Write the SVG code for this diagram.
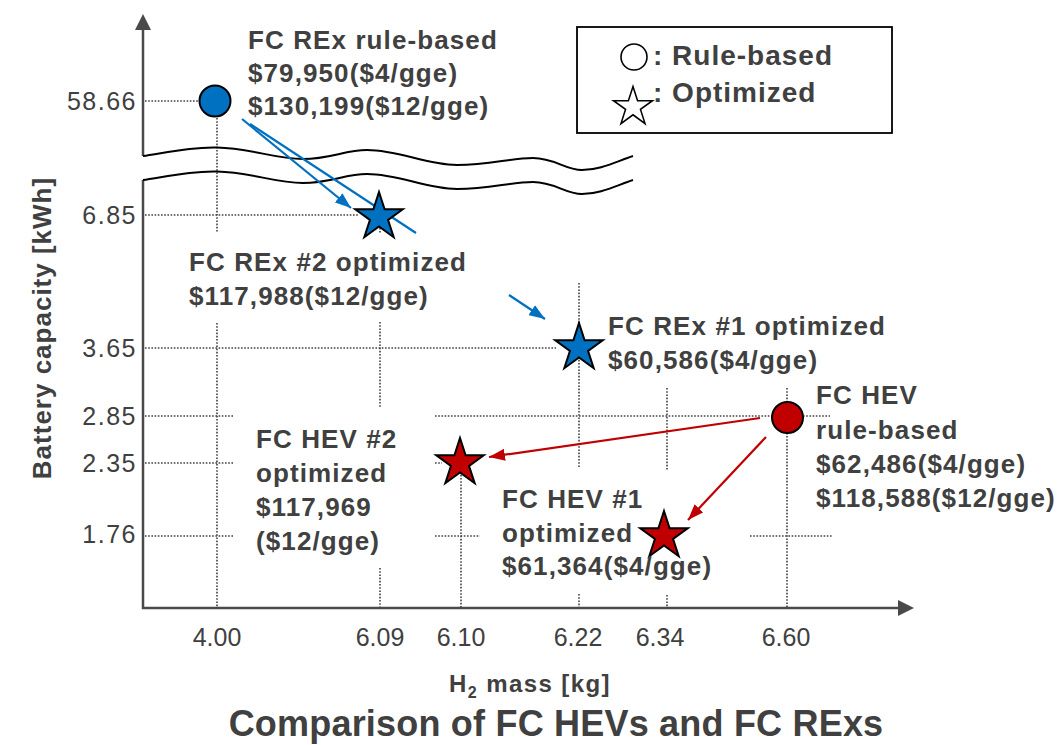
<svg xmlns="http://www.w3.org/2000/svg" xmlns:xlink="http://www.w3.org/1999/xlink" width="1061" height="745" viewBox="0 0 1061 745">
  <style>
    text { font-family: "Liberation Sans", Arial, sans-serif; fill: #404040; }
    .lbl { font-size: 26px; font-weight: bold; letter-spacing: 1.1px; }
    .leg { font-size: 28px; font-weight: bold; letter-spacing: 1px; }
    .ytick { font-size: 25px; letter-spacing: 1.5px; text-anchor: end; }
    .xtick { font-size: 25px; text-anchor: middle; }
    .grid { stroke: #404040; stroke-width: 1.6; stroke-dasharray: 1.6 1.6; fill: none; }
    .axis { stroke: #4a4a4a; stroke-width: 2.5; fill: none; }
    .wave { stroke: #000; stroke-width: 2; fill: none; }
    .blue-arrow { stroke: #0070C0; stroke-width: 2.2; fill: none; }
    .red-arrow { stroke: #C00000; stroke-width: 2.2; fill: none; }
    .mark { stroke: #000; stroke-width: 2; }
    .blue { fill: #0070C0; }
    .red { fill: #C00000; }
  </style>
  <defs>
    <!-- five-point star, outer radius 25, centred on the origin -->
    <path id="star" d="M0,-25 L5.61,-7.73 L23.78,-7.73 L9.08,2.95 L14.69,20.23 L0,9.55 L-14.69,20.23 L-9.08,2.95 L-23.78,-7.73 L-5.61,-7.73 Z"/>
    <marker id="axis-head" markerUnits="userSpaceOnUse" markerWidth="16" markerHeight="16" viewBox="0 0 16 16" refX="2" refY="8" orient="auto">
      <path d="M0,0 L16,8 L0,16 Z" fill="#4a4a4a"/>
    </marker>
    <marker id="blue-head" markerUnits="userSpaceOnUse" markerWidth="16" markerHeight="12" viewBox="0 0 16 12" refX="16" refY="6" orient="auto">
      <path d="M0,0 L16,6 L0,12 Z" fill="#0070C0"/>
    </marker>
    <marker id="red-head" markerUnits="userSpaceOnUse" markerWidth="16" markerHeight="12" viewBox="0 0 16 12" refX="16" refY="6" orient="auto">
      <path d="M0,0 L16,6 L0,12 Z" fill="#C00000"/>
    </marker>
  </defs>

  <rect width="1061" height="745" fill="#fff"/>

  <!-- dotted guide lines -->
  <g id="gridlines" class="grid">
    <path d="M145,101 H199"/>
    <path d="M145,215 H358"/>
    <path d="M145,348 H556"/>
    <path d="M145,416 H233 M435,416 H772 M803,416 H830"/>
    <path d="M145,463 H233 M435,463 H442"/>
    <path d="M145,536 H233 M435,536 H480 M750,536 H832"/>
    <path d="M217,118 V233 M217,323 V607"/>
    <path d="M380,215 V233 M380,322 V408 M380,568 V607"/>
    <path d="M461,462 V607"/>
    <path d="M579,283 V468 M579,594 V607"/>
    <path d="M667,388 V470 M667,595 V607"/>
    <path d="M787,388 V607"/>
  </g>

  <!-- axes with the broken range on the battery axis -->
  <g id="axes">
    <path class="axis" d="M143,156 V28" marker-end="url(#axis-head)"/>
    <path class="axis" d="M143,180 V608 H900" marker-end="url(#axis-head)"/>
    <path id="break-wave" class="wave" d="M143,156 C175,151 195,147 217,147.5 C250,148 275,159 303,159 C330,159 345,150 367,150 C400,150 425,165 457,165 C490,165 510,158 533,158 C555,158 565,170 582,170 C600,170 615,162 633,156"/>
    <use xlink:href="#break-wave" href="#break-wave" transform="translate(0,24)"/>
  </g>

  <!-- axis ticks and titles -->
  <g id="y-ticks">
    <text class="ytick" x="137" y="110">58.66</text>
    <text class="ytick" x="137" y="224">6.85</text>
    <text class="ytick" x="137" y="357">3.65</text>
    <text class="ytick" x="137" y="425">2.85</text>
    <text class="ytick" x="137" y="472">2.35</text>
    <text class="ytick" x="137" y="543">1.76</text>
  </g>
  <g id="x-ticks">
    <text class="xtick" x="217" y="646">4.00</text>
    <text class="xtick" x="380" y="646">6.09</text>
    <text class="xtick" x="461" y="646">6.10</text>
    <text class="xtick" x="578" y="646">6.22</text>
    <text class="xtick" x="660" y="646">6.34</text>
    <text class="xtick" x="786" y="646">6.60</text>
  </g>
  <text id="y-title" transform="translate(51,328) rotate(-90)" text-anchor="middle" font-size="26" font-weight="bold" letter-spacing="1">Battery capacity [kWh]</text>
  <text id="x-title" x="530" y="692" text-anchor="middle" font-size="24" font-weight="bold" letter-spacing="1.4">H<tspan font-size="16" dy="6">2</tspan><tspan dy="-6"> mass [kg]</tspan></text>
  <text id="chart-title" x="556" y="736" text-anchor="middle" font-size="36" font-weight="bold" letter-spacing="0.2">Comparison of FC HEVs and FC RExs</text>

  <!-- transitions from rule-based to optimized designs -->
  <g id="connectors">
    <path class="blue-arrow" d="M242,119 L351,208" marker-end="url(#blue-head)"/>
    <path class="blue-arrow" d="M250,124 L416,233 M509,295 L545,319" marker-end="url(#blue-head)"/>
    <path class="red-arrow" d="M760,418 L489,457" marker-end="url(#red-head)"/>
    <path class="red-arrow" d="M766,437 L688,520" marker-end="url(#red-head)"/>
  </g>

  <g id="rex-rule-based">
    <circle class="mark blue" cx="215" cy="101" r="15.5"/>
    <text class="lbl" x="248" y="49">FC REx rule-based</text>
    <text class="lbl" x="248" y="82">$79,950($4/gge)</text>
    <text class="lbl" x="248" y="115">$130,199($12/gge)</text>
  </g>

  <g id="rex-2-optimized">
    <use xlink:href="#star" href="#star" class="mark blue" x="379" y="217"/>
    <text class="lbl" x="189" y="271">FC REx #2 optimized</text>
    <text class="lbl" x="189" y="305">$117,988($12/gge)</text>
  </g>

  <g id="rex-1-optimized">
    <use xlink:href="#star" href="#star" class="mark blue" x="579" y="348"/>
    <text class="lbl" x="608" y="335">FC REx #1 optimized</text>
    <text class="lbl" x="608" y="369">$60,586($4/gge)</text>
  </g>

  <g id="hev-rule-based">
    <circle class="mark red" cx="787.5" cy="417.5" r="15.5"/>
    <text class="lbl" x="816" y="404">FC HEV</text>
    <text class="lbl" x="816" y="439">rule-based</text>
    <text class="lbl" x="816" y="473">$62,486($4/gge)</text>
    <text class="lbl" x="816" y="507">$118,588($12/gge)</text>
  </g>

  <g id="hev-2-optimized">
    <use xlink:href="#star" href="#star" class="mark red" x="460" y="463"/>
    <text class="lbl" x="256" y="448">FC HEV #2</text>
    <text class="lbl" x="256" y="482">optimized</text>
    <text class="lbl" x="256" y="516">$117,969</text>
    <text class="lbl" x="256" y="550">($12/gge)</text>
  </g>

  <g id="hev-1-optimized">
    <use xlink:href="#star" href="#star" class="mark red" x="664" y="536"/>
    <text class="lbl" x="502" y="508">FC HEV #1</text>
    <text class="lbl" x="502" y="542">optimized</text>
    <text class="lbl" x="502" y="575">$61,364($4/gge)</text>
  </g>

  <g id="legend">
    <rect x="577" y="27" width="315" height="106" fill="#fff" stroke="#000" stroke-width="1.8"/>
    <circle cx="634" cy="57" r="13" fill="#fff" stroke="#000" stroke-width="1.6"/>
    <use xlink:href="#star" href="#star" transform="translate(633,107) scale(0.82)" fill="#fff" stroke="#000" stroke-width="1.9"/>
    <text class="leg" x="653" y="65">: Rule-based</text>
    <text class="leg" x="653" y="102">: Optimized</text>
  </g>
</svg>
